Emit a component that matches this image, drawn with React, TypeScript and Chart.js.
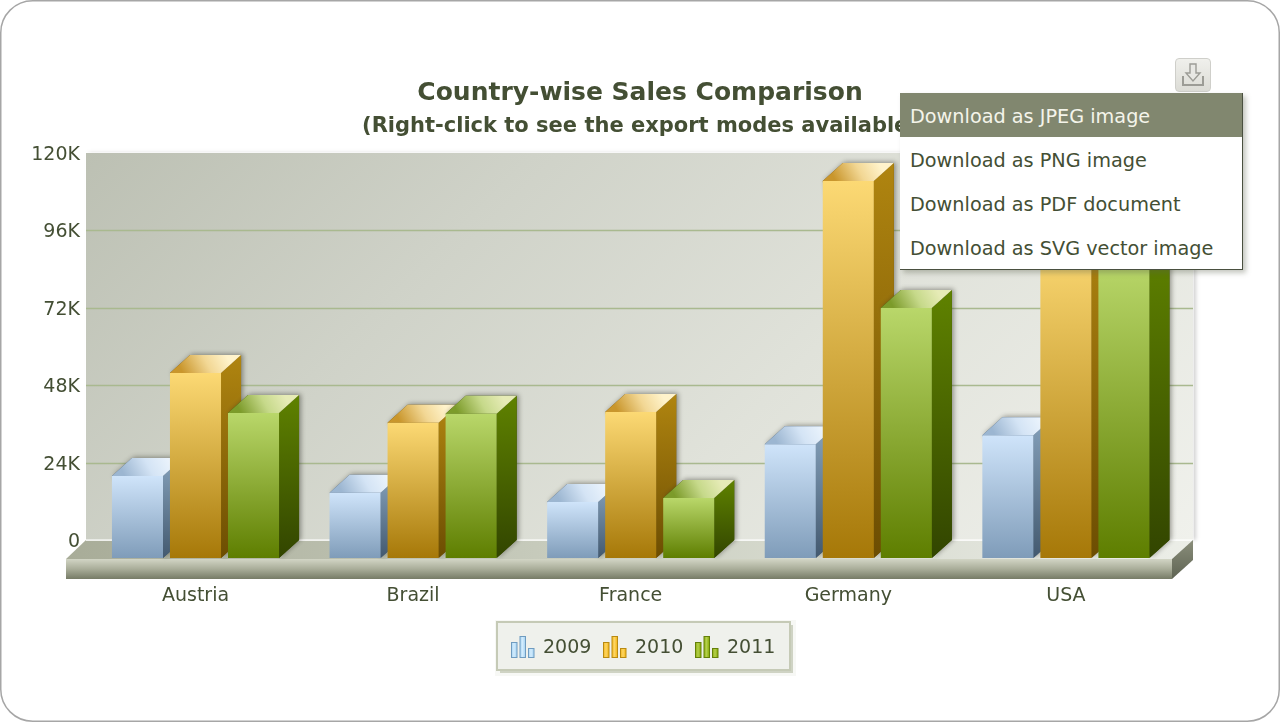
import React, { useEffect, useRef } from "react";
import { Chart, registerables } from "chart.js";

Chart.register(...registerables);

const categories = ["Austria", "Brazil", "France", "Germany", "USA"];
const seriesNames = ["2009", "2010", "2011"];
const values2009 = [25400, 20200, 17400, 35300, 38100];
const values2010 = [57400, 41900, 45300, 116900, 98000];
const values2011 = [45000, 44700, 18600, 77500, 92000];
const yTicks = [0, 24000, 48000, 72000, 96000, 120000];
const menuItems = [
  "Download as JPEG image",
  "Download as PNG image",
  "Download as PDF document",
  "Download as SVG vector image",
];

const FONT = "'DejaVu Sans', Verdana, sans-serif";
const TEXT = "#444f34";
const DX = 20;
const DY = 18;
const WALL_LEFT = 86;
const WALL_RIGHT = 1193;
const FRONT_LEFT = 66;
const FRONT_RIGHT = 1172;
const AREA_LEFT = 86.7;
const AREA_RIGHT = 1174.7;
const AREA_TOP = 153;
const AREA_BOTTOM = 558;
const PX_PER_UNIT = 3.225 / 1000;
const depthUnits = DY / PX_PER_UNIT;
const fullUnits = (AREA_BOTTOM - AREA_TOP) / PX_PER_UNIT;

const palette = [
  {
    front: ["#cfe4fa", "#7f9cb9"],
    side: ["#86a2bc", "#43596f"],
    top: ["#9cb6d1", "#d4e4f5", "#eaf3fc"],
    icon: ["#d2ecfd", "#a4d2f2", "#6f9cc0"],
  },
  {
    front: ["#fcd974", "#a67808"],
    side: ["#b08510", "#6c4d02"],
    top: ["#c9962c", "#f2d794", "#fff3cb"],
    icon: ["#fcd565", "#f5b50e", "#b98a12"],
  },
  {
    front: ["#b9d76a", "#5e7e00"],
    side: ["#5f8200", "#324500"],
    top: ["#7c9b2a", "#c6d98a", "#e6ebb6"],
    icon: ["#b4cf4e", "#86aa00", "#64800a"],
  },
];

function barFill(i: number) {
  return (c: any) => {
    const scale = c.chart.scales.yFront;
    if (!scale || typeof c.raw !== "number") return palette[i].front[1];
    const top = scale.getPixelForValue(c.raw);
    if (!Number.isFinite(top)) return palette[i].front[1];
    const g = c.chart.ctx.createLinearGradient(0, top, 0, AREA_BOTTOM);
    g.addColorStop(0, palette[i].front[0]);
    g.addColorStop(1, palette[i].front[1]);
    return g;
  };
}

function drawFaces(chart: any, meta: any, index: number) {
  const ctx = chart.ctx as CanvasRenderingContext2D;
  const colors = palette[index];
  meta.data.forEach((bar: any) => {
    const w = bar.width;
    const x = bar.x - w / 2;
    const top = bar.y;
    const base = bar.base;
    ctx.save();
    // soft shadow behind the faces
    ctx.shadowColor = "rgba(40,40,30,0.45)";
    ctx.shadowBlur = 5;
    ctx.shadowOffsetX = 2;
    ctx.shadowOffsetY = -1;
    ctx.fillStyle = colors.side[1];
    ctx.beginPath();
    ctx.moveTo(x + w, base);
    ctx.lineTo(x + w + DX, base - DY);
    ctx.lineTo(x + w + DX, top - DY);
    ctx.lineTo(x + DX, top - DY);
    ctx.lineTo(x, top);
    ctx.closePath();
    ctx.fill();
    ctx.restore();
    // side
    const side = ctx.createLinearGradient(0, top - DY, 0, base);
    side.addColorStop(0, colors.side[0]);
    side.addColorStop(1, colors.side[1]);
    ctx.fillStyle = side;
    ctx.beginPath();
    ctx.moveTo(x + w, top);
    ctx.lineTo(x + w + DX, top - DY);
    ctx.lineTo(x + w + DX, base - DY);
    ctx.lineTo(x + w, base);
    ctx.closePath();
    ctx.fill();
    // top
    const face = ctx.createLinearGradient(x + 14, top + 2, x + w + 4, top - DY - 2);
    face.addColorStop(0, colors.top[0]);
    face.addColorStop(0.55, colors.top[1]);
    face.addColorStop(1, colors.top[2]);
    ctx.fillStyle = face;
    ctx.beginPath();
    ctx.moveTo(x, top);
    ctx.lineTo(x + DX, top - DY);
    ctx.lineTo(x + w + DX, top - DY);
    ctx.lineTo(x + w, top);
    ctx.closePath();
    ctx.fill();
  });
}

const scenePlugin = {
  id: "scene",
  beforeDatasetsDraw(chart: any) {
    const ctx = chart.ctx as CanvasRenderingContext2D;
    const y = chart.scales.y;
    const wallBottom = y.getPixelForValue(0);
    const wallTop = AREA_TOP;
    const left = WALL_LEFT;
    ctx.save();
    // wall
    ctx.shadowColor = "rgba(0,0,0,0.18)";
    ctx.shadowBlur = 4;
    ctx.shadowOffsetX = 3;
    ctx.shadowOffsetY = 0;
    const span = (WALL_RIGHT - left + wallBottom - wallTop) / 2;
    const wall = ctx.createLinearGradient(left, wallTop, left + span, wallTop + span);
    wall.addColorStop(0, "#bcc0b3");
    wall.addColorStop(0.3, "#cfd2c8");
    wall.addColorStop(0.62, "#e0e2da");
    wall.addColorStop(1, "#f0f1ec");
    ctx.fillStyle = wall;
    ctx.fillRect(left, wallTop, WALL_RIGHT - left, wallBottom - wallTop);
    ctx.shadowColor = "transparent";
    ctx.shadowBlur = 0;
    ctx.shadowOffsetX = 0;
    ctx.strokeStyle = "rgba(255,255,255,0.55)";
    ctx.lineWidth = 1;
    ctx.strokeRect(left - 0.5, wallTop - 0.5, WALL_RIGHT - left + 1, wallBottom - wallTop);
    // grid lines on the wall
    ctx.strokeStyle = "#a9b98f";
    ctx.lineWidth = 1.4;
    y.ticks.forEach((t: any) => {
      if (t.value <= 0 || t.value >= yTicks[yTicks.length - 1]) return;
      const py = Math.round(y.getPixelForValue(t.value)) + 0.5;
      ctx.beginPath();
      ctx.moveTo(left, py);
      ctx.lineTo(WALL_RIGHT, py);
      ctx.stroke();
    });
    // floor top
    const floorBack = wallBottom;
    const floorFront = AREA_BOTTOM + 1;
    const ft = ctx.createLinearGradient(FRONT_LEFT, 0, WALL_RIGHT, 0);
    ft.addColorStop(0, "#a8ac98");
    ft.addColorStop(0.5, "#ccd0c2");
    ft.addColorStop(1, "#eceee8");
    ctx.fillStyle = ft;
    ctx.beginPath();
    ctx.moveTo(FRONT_LEFT, floorFront);
    ctx.lineTo(left, floorBack);
    ctx.lineTo(WALL_RIGHT, floorBack);
    ctx.lineTo(FRONT_RIGHT, floorFront);
    ctx.closePath();
    ctx.fill();
    ctx.strokeStyle = "rgba(255,255,255,0.8)";
    ctx.lineWidth = 1;
    ctx.beginPath();
    ctx.moveTo(left, floorBack + 0.5);
    ctx.lineTo(WALL_RIGHT, floorBack + 0.5);
    ctx.stroke();
    // floor front
    const ff = ctx.createLinearGradient(0, floorFront, 0, floorFront + 20);
    ff.addColorStop(0, "#d2d5c5");
    ff.addColorStop(0.5, "#a9ad99");
    ff.addColorStop(1, "#767b66");
    ctx.fillStyle = ff;
    ctx.fillRect(FRONT_LEFT, floorFront, FRONT_RIGHT - FRONT_LEFT, 20);
    // floor side
    const fs = ctx.createLinearGradient(0, floorBack, 0, floorFront + 20);
    fs.addColorStop(0, "#8a8e7b");
    fs.addColorStop(1, "#5f6453");
    ctx.fillStyle = fs;
    ctx.beginPath();
    ctx.moveTo(FRONT_RIGHT, floorFront);
    ctx.lineTo(WALL_RIGHT, floorBack);
    ctx.lineTo(WALL_RIGHT, floorBack + 20);
    ctx.lineTo(FRONT_RIGHT, floorFront + 20);
    ctx.closePath();
    ctx.fill();
    ctx.restore();
  },
  // The library paints the last dataset first; here 2011 must lie over 2010's side face.
  beforeDatasetDraw() {
    return false;
  },
  afterDatasetsDraw(chart: any) {
    chart.data.datasets.forEach((_: any, i: number) => {
      const meta = chart.getDatasetMeta(i);
      drawFaces(chart, meta, i);
      meta.controller.draw();
    });
  },
  afterDraw(chart: any) {
    const ctx = chart.ctx as CanvasRenderingContext2D;
    ctx.save();
    // value labels of the y scale, sitting on the wall's grid lines
    const y = chart.scales.y;
    ctx.fillStyle = TEXT;
    ctx.font = `19px ${FONT}`;
    ctx.textAlign = "right";
    ctx.textBaseline = "middle";
    y.ticks.forEach((t: any) => {
      ctx.fillText(String(t.label), 80, y.getPixelForValue(t.value) + 2);
    });
    // legend
    const lx = 497, ly = 622, lw = 293, lh = 48;
    ctx.fillStyle = "#f7f8f5";
    ctx.fillRect(lx - 2, ly - 2, lw + 8, lh + 8);
    ctx.fillStyle = "#cfd3c4";
    ctx.fillRect(lx + 3, ly + 3, lw, lh);
    ctx.fillStyle = "#eff1ec";
    ctx.fillRect(lx, ly, lw, lh);
    ctx.strokeStyle = "#c5cab6";
    ctx.lineWidth = 2;
    ctx.strokeRect(lx, ly, lw, lh);
    const iconX = [511, 603, 695];
    const heights = [15, 21, 9];
    chart.data.datasets.forEach((d: any, i: number) => {
      const c = palette[i].icon;
      heights.forEach((h, k) => {
        const bx = iconX[i] + k * 8.5;
        const g = ctx.createLinearGradient(bx, 0, bx + 6, 0);
        g.addColorStop(0, c[1]);
        g.addColorStop(0.5, c[0]);
        g.addColorStop(1, c[1]);
        ctx.fillStyle = g;
        ctx.strokeStyle = c[2];
        ctx.lineWidth = 1;
        ctx.fillRect(bx + 0.5, 657.5 - h, 5.5, h);
        ctx.strokeRect(bx + 0.5, 657.5 - h, 5.5, h);
      });
      ctx.fillStyle = TEXT;
      ctx.font = `19px ${FONT}`;
      ctx.textAlign = "left";
      ctx.textBaseline = "middle";
      ctx.fillText(d.label, iconX[i] + 32, 648);
    });
    ctx.restore();
  },
};

export default function App() {
  const ref = useRef<HTMLCanvasElement>(null);
  useEffect(() => {
    document.body.style.margin = "0";
    document.body.style.background = "#ffffff";
    const chart = new Chart(ref.current as HTMLCanvasElement, {
      type: "bar",
      plugins: [scenePlugin],
      data: {
        labels: categories,
        datasets: [values2009, values2010, values2011].map((data, i) => ({
          label: seriesNames[i],
          data,
          yAxisID: "yFront",
          backgroundColor: barFill(i),
          borderWidth: 0,
          categoryPercentage: 0.8,
          barPercentage: 0.88,
        })),
      },
      options: {
        animation: false,
        responsive: false,
        events: [],
        layout: { padding: 0 },
        plugins: {
          legend: { display: false },
          tooltip: { enabled: false },
          title: {
            display: true,
            text: "Country-wise Sales Comparison",
            color: TEXT,
            font: { family: FONT, size: 25, weight: "bold", lineHeight: 1.2 },
            padding: { top: 78.4, bottom: 2.9 },
          },
          subtitle: {
            display: true,
            text: "(Right-click to see the export modes available)",
            color: TEXT,
            font: { family: FONT, size: 21, weight: "bold", lineHeight: 1.2 },
            padding: { top: 2.4, bottom: 14.1 },
          },
        },
        scales: {
          x: {
            offset: true,
            grid: { display: false },
            border: { display: false },
            ticks: {
              color: TEXT,
              font: { family: FONT, size: 19 },
              padding: 19,
              maxRotation: 0,
            },
            afterFit(s: any) {
              s.height = 722 - AREA_BOTTOM;
            },
          },
          y: {
            position: "left",
            min: -depthUnits,
            max: 120000,
            grid: { display: false, drawTicks: false },
            border: { display: false },
            afterBuildTicks(s: any) {
              s.ticks = yTicks.map((value) => ({ value }));
            },
            ticks: {
              display: false,
              callback: (v: any) => (Number(v) === 0 ? "0" : Number(v) / 1000 + "K"),
            },
            afterFit(s: any) {
              s.width = AREA_LEFT;
            },
          },
          yFront: {
            display: false,
            position: "left",
            min: 0,
            max: fullUnits,
          },
          spacer: {
            position: "right",
            grid: { display: false },
            border: { display: false },
            ticks: { display: false },
            afterFit(s: any) {
              s.width = 1280 - AREA_RIGHT;
            },
          },
        },
      } as any,
    });
    return () => chart.destroy();
  }, []);

  return (
    <div style={{ position: "fixed", left: 0, top: 0, width: 1280, height: 722, background: "#fff", overflow: "hidden" }}>
      <canvas ref={ref} width={1280} height={722} style={{ display: "block", width: 1280, height: 722 }} />
      {/* export button */}
      <div
        style={{
          position: "absolute",
          left: 1175,
          top: 58,
          width: 34,
          height: 32,
          border: "1px solid #cfcfca",
          borderRadius: 4,
          background: "linear-gradient(#f0f0ec, #dcdcd6)",
        }}
      >
        <svg width="34" height="32" viewBox="0 0 34 32" style={{ display: "block" }}>
          <path d="M14 5h6v9h4l-7 8-7-8h4z" fill="#e8e8e4" stroke="#9c9c96" strokeWidth="1.4" />
          <path d="M7 17v9h20v-9" fill="none" stroke="#9c9c96" strokeWidth="2" />
        </svg>
      </div>
      {/* export menu */}
      <div
        style={{
          position: "absolute",
          left: 900,
          top: 93,
          width: 343,
          background: "#fff",
          borderRight: "1px solid #4a5040",
          borderBottom: "1px solid #4a5040",
          boxSizing: "border-box",
          boxShadow: "3px 3px 5px rgba(90,95,75,0.35)",
          fontFamily: FONT,
          fontSize: 19.25,
          color: TEXT,
        }}
      >
        {menuItems.map((t, i) => (
          <div
            key={t}
            style={{
              height: 44,
              lineHeight: "47px",
              paddingLeft: 10,
              whiteSpace: "nowrap",
              background: i === 0 ? "#81876f" : "#fff",
              color: i === 0 ? "#f4f4ea" : TEXT,
            }}
          >
            {t}
          </div>
        ))}
      </div>
      {/* rounded page frame */}
      <svg width="1280" height="722" style={{ position: "absolute", left: 0, top: 0, pointerEvents: "none" }}>
        <path
          fillRule="evenodd"
          fill="#ffffff"
          d="M0 0H1280V722H0Z M33 1H1247A32 32 0 0 1 1279 33V689A32 32 0 0 1 1247 721H33A32 32 0 0 1 1 689V33A32 32 0 0 1 33 1Z"
        />
        <rect x="0.75" y="0.75" width="1278.5" height="720.5" rx="32" ry="32" fill="none" stroke="#a6a6a6" strokeWidth="1.5" />
      </svg>
    </div>
  );
}
